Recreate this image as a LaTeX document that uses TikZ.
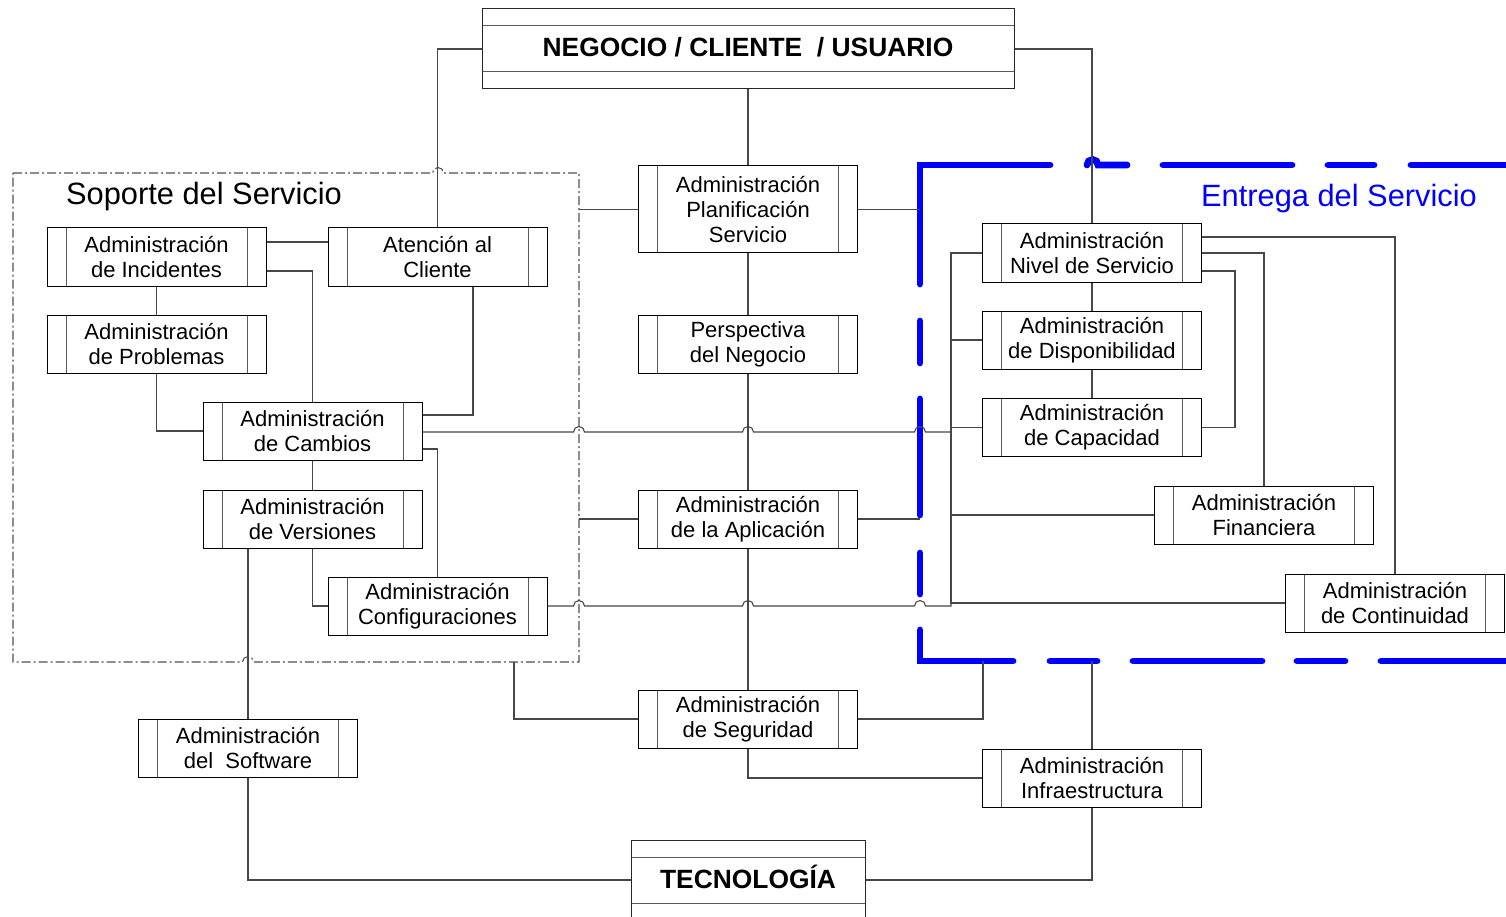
\documentclass[tikz,border=0pt]{standalone}
\usepackage{fontspec}
\setmainfont{Liberation Sans}
\definecolor{wire}{HTML}{474747}
\definecolor{innergray}{HTML}{5A5A5A}
\definecolor{framegray}{HTML}{505050}
\definecolor{zoneblue}{RGB}{0,0,255}
\tikzset{
  proc/.style={draw=black, line width=1pt, fill=white,
    minimum width=219pt, minimum height=58pt, inner sep=0pt, align=center,
    font=\fontsize{22}{25}\selectfont,
    path picture={
      \draw[innergray, line width=1pt]
        ([xshift=19pt]path picture bounding box.north west) --
        ([xshift=19pt]path picture bounding box.south west);
      \draw[innergray, line width=1pt]
        ([xshift=-19pt]path picture bounding box.north east) --
        ([xshift=-19pt]path picture bounding box.south east);
    }},
  layer/.style={draw=black!85, line width=1pt, fill=white,
    minimum height=80pt, inner sep=0pt, text height=16pt, text depth=0pt,
    font=\fontsize{26.4}{30}\selectfont\bfseries,
    path picture={
      \draw[innergray, line width=1pt]
        ([yshift=-17pt]path picture bounding box.north west) --
        ([yshift=-17pt]path picture bounding box.north east);
      \draw[innergray, line width=1pt]
        ([yshift=17pt]path picture bounding box.south west) --
        ([yshift=17pt]path picture bounding box.south east);
    }},
  conn/.style={draw=wire, line width=1.1pt},
  zoneframe/.style={draw=framegray, line width=1.1pt,
    dash pattern=on 9pt off 3pt on 2pt off 3pt},
  zoneline/.style={draw=zoneblue, line width=6.8pt, line cap=round, line join=miter},
  zonetitle/.style={inner sep=0pt, font=\fontsize{30.8}{36}\selectfont},
}
\begin{document}
\begin{tikzpicture}[x=1pt,y=-1pt]
\useasboundingbox (0,0) rectangle (1506,917);

% ---- region boundaries ----
\coordinate (sopNE) at (579,173);
\coordinate (sopS)  at (514,662);
\coordinate (entNW) at (920,165);
\coordinate (entSW) at (920,661);
\coordinate (entS)  at (983,661);

% Soporte del Servicio: dash-dot frame with hops over crossing lines
\draw[zoneframe] (13,173) -- (432.5,173) arc[start angle=180,end angle=360,radius=5.5]
  -- (579,173) -- (579,662) -- (253.5,662) arc[start angle=0,end angle=-180,radius=5.5]
  -- (13,662) -- cycle;

% Entrega del Servicio: heavy blue long/short dashed frame
\draw[zoneline] (1050,165) -- (920,165) -- (920,284);
\draw[zoneline] (1087,165) arc[start angle=180,end angle=360,radius=5.5] -- (1127,165);
\draw[zoneline] (1163,165) -- (1292,165);
\draw[zoneline] (1328,165) -- (1374,165);
\draw[zoneline] (1411,165) -- (1515,165);
\draw[zoneline] (920,321) -- (920,363);
\draw[zoneline] (920,399) -- (920,515);
\draw[zoneline] (920,553) -- (920,594);
\draw[zoneline] (920,630) -- (920,661) -- (1013,661);
\draw[zoneline] (1050,661) -- (1097,661);
\draw[zoneline] (1133,661) -- (1262,661);
\draw[zoneline] (1297,661) -- (1345,661);
\draw[zoneline] (1381,661) -- (1515,661);

\node[zonetitle, anchor=base west] (sopTitle) at (66,205) {Soporte del Servicio};
\node[zonetitle, anchor=base east, text=zoneblue] (entTitle) at (1477,207) {Entrega del Servicio};

% ---- layers ----
\node[layer, minimum width=532pt] (neg) at (748,49) {NEGOCIO / CLIENTE\ \ / USUARIO};
\node[layer, minimum width=234pt] (tec) at (748,880) {TECNOLOGÍA};

% ---- processes ----
\node[proc] (inc)  at (156.5,257) {Administración\\de Incidentes};
\node[proc] (ate)  at (437.5,257) {Atención al\\Cliente};
\node[proc] (prob) at (156.5,344) {Administración\\de Problemas};
\node[proc] (camb) at (312.5,431) {Administración\\de Cambios};
\node[proc] (vers) at (312.5,519) {Administración\\de Versiones};
\node[proc] (conf) at (437.5,606) {Administración\\Configuraciones};
\node[proc, minimum height=87pt] (plan) at (748,209.5) {Administración\\Planificación\\Servicio};
\node[proc] (persp) at (748,344) {Perspectiva\\del Negocio};
\node[proc] (apl)  at (748,519) {Administración\\de la Aplicación};
\node[proc] (seg)  at (748,719) {Administración\\de Seguridad};
\node[proc] (soft) at (248,748) {Administración\\del\ \ Software};
\node[proc] (niv)  at (1092,253) {Administración\\Nivel de Servicio};
\node[proc] (disp) at (1092,340) {Administración\\de Disponibilidad};
\node[proc] (capa) at (1092,427.5) {Administración\\de Capacidad};
\node[proc] (fin)  at (1264,515) {Administración\\Financiera};
\node[proc] (cont) at (1395,603) {Administración\\de Continuidad};
\node[proc] (infra) at (1092,778) {Administración\\Infraestructura};

\coordinate (busTop) at (951,253);
\coordinate (busBot) at (951,603);

% ---- connectors ----
\draw[conn] (neg.west) -| (ate.north);
\draw[conn] (neg.east) -| (niv.north);
\draw[conn] (neg.south) -- (plan.north);
\draw[conn] (plan.south) -- (persp.north);
\draw[conn] (persp.south) -- (apl.north);
\draw[conn] (apl.south) -- (seg.north);
\draw[conn] (plan.west) -- (plan.west -| sopNE);
\draw[conn] (plan.east) -- (plan.east -| entNW);
\draw[conn] (apl.west) -- (apl.west -| sopNE);
\draw[conn] (apl.east) -- (apl.east -| entNW);

\draw[conn] ([yshift=15pt]inc.east) -- ([yshift=15pt]ate.west);
\draw[conn] ([yshift=-14pt]inc.east) -| (camb.north);
\draw[conn] (inc.south) -- (prob.north);
\draw[conn] (prob.south) |- (camb.west);
\draw[conn] ([xshift=35.5pt]ate.south) |- ([yshift=16pt]camb.east);
\draw[conn] (camb.south) -- (vers.north);
\draw[conn] ([yshift=-18pt]camb.east) -| (conf.north);
\draw[conn] (vers.south) |- (conf.west);
\draw[conn] ([xshift=-64.5pt]vers.south) -- (soft.north);

% long runs to the service-delivery bus, hopping over crossings
\draw[conn] (camb.east) ++(0,1) -- (573.5,432) arc[start angle=180,end angle=360,radius=5.5]
  -- (742.5,432) arc[start angle=180,end angle=360,radius=5.5]
  -- (914.5,432) arc[start angle=180,end angle=360,radius=5.5] -- (951,432);
\draw[conn] (conf.east) -- (573.5,606) arc[start angle=180,end angle=360,radius=5.5]
  -- (742.5,606) arc[start angle=180,end angle=360,radius=5.5]
  -- (914.5,606) arc[start angle=180,end angle=360,radius=5.5] -- (951,606) -- (busBot);

% service-delivery bus
\draw[conn] (niv.west) -- (busTop) -- (busBot) -- (cont.west);
\draw[conn] (disp.west) -- (disp.west -| busTop);
\draw[conn] (capa.west) -- (capa.west -| busTop);
\draw[conn] (fin.west) -- (fin.west -| busTop);
\draw[conn] ([yshift=16pt]niv.east) -| (cont.north);
\draw[conn] (niv.east) -| (fin.north);
\draw[conn] ([yshift=-18pt]niv.east) -| ([xshift=33pt]capa.east) -- (capa.east);
\draw[conn] (niv.south) -- (disp.north);
\draw[conn] (disp.south) -- (capa.north);

% lower part
\draw[conn] (seg.west) -| (sopS);
\draw[conn] (seg.east) -| (entS);
\draw[conn] (seg.south) |- (infra.west);
\draw[conn] (infra.north) -- (infra.north |- entSW);
\draw[conn] (infra.south) |- (tec.east);
\draw[conn] (soft.south) |- (tec.west);
\end{tikzpicture}
\end{document}
